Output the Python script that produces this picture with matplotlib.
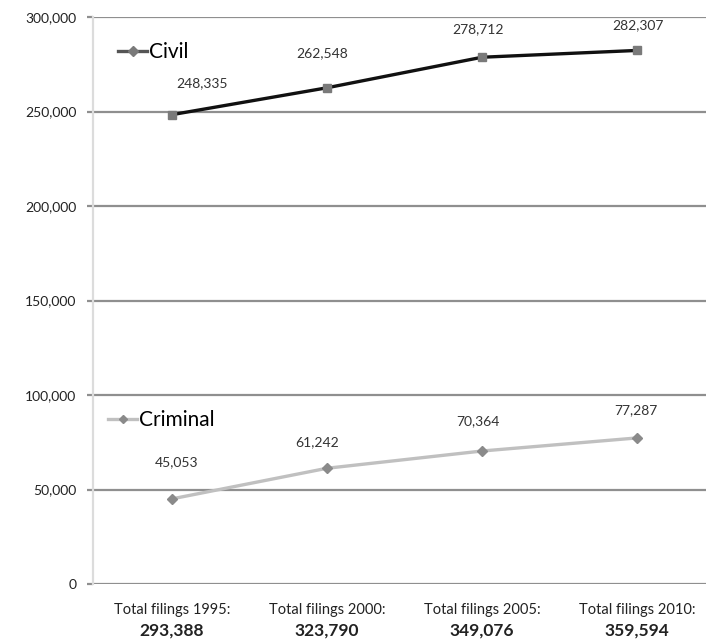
import matplotlib.pyplot as plt
from matplotlib.lines import Line2D

plt.rcParams['font.family'] = ['Lato', 'DejaVu Sans']

years = ['1995', '2000', '2005', '2010']
civil = [248335, 262548, 278712, 282307]
criminal = [45053, 61242, 70364, 77287]
totals = ['293,388', '323,790', '349,076', '359,594']
yticks = [0, 50000, 100000, 150000, 200000, 250000, 300000]

# label offsets in pixels (dx, dy) relative to each point
civil_off = [(30, 31), (-5, 35), (-4, 28), (1, 25)]
crim_off = [(5, 37), (-10, 26), (-4, 30), (-1, 28)]

fig = plt.figure(figsize=(7.06, 6.44), dpi=100)
ax = fig.add_axes([93 / 706, 60 / 644, 1 - 93 / 706, 567 / 644])

x = list(range(len(years)))
grid_c = '#8f8f8f'

ax.plot(x, civil, color='#111111', lw=2.4, marker='s', ms=6,
        mfc='#7a7a7a', mec='#7a7a7a', zorder=3)
ax.plot(x, criminal, color='#c0c0c0', lw=2.4, marker='D', ms=5,
        mfc='#8a8a8a', mec='#8a8a8a', zorder=3)

for i in x:
    ax.annotate(f'{civil[i]:,}', (i, civil[i]), xytext=civil_off[i],
                textcoords='offset pixels', ha='center', va='center',
                fontsize=10, color='#333333')
    ax.annotate(f'{criminal[i]:,}', (i, criminal[i]), xytext=crim_off[i],
                textcoords='offset pixels', ha='center', va='center',
                fontsize=10, color='#333333')

ax.set_xlim(-0.51, (706 - 172) / 155)
ax.set_ylim(0, 300000)
ax.set_yticks(yticks)
ax.set_yticklabels([f'{v:,}' for v in yticks], fontsize=10, color='#222222')
ax.yaxis.grid(True, color=grid_c, lw=1.6)
ax.set_axisbelow(True)
ax.tick_params(axis='y', length=4, width=1.6, color=grid_c, pad=8)

ax.set_xticks(x)
ax.set_xticklabels([f'Total filings {y}:' for y in years], fontsize=10.5,
                   color='#222222')
ax.tick_params(axis='x', length=0, pad=14)
for i in x:
    ax.annotate(totals[i], (i, 0), xytext=(0, -47), textcoords='offset pixels',
                ha='center', va='center', fontsize=12.5, fontweight='bold',
                color='#222222', annotation_clip=False)

for s in ['top', 'right']:
    ax.spines[s].set_visible(False)
ax.spines['bottom'].set_visible(False)
ax.spines['left'].set_color('#dcdcdc')
ax.spines['left'].set_linewidth(1.6)

h_civil = Line2D([], [], color='#555555', lw=2.4, marker='D', ms=5,
                 mfc='#7a7a7a', mec='#7a7a7a')
h_crim = Line2D([], [], color='#c0c0c0', lw=2.4, marker='D', ms=4,
                mfc='#8a8a8a', mec='#8a8a8a')
leg1 = ax.legend([h_civil], ['Civil'], loc='center left', frameon=False,
                 fontsize=15, handlelength=1.4, handletextpad=0.1,
                 borderpad=0, borderaxespad=0)
leg1.set_bbox_to_anchor((118 / 706, 1 - 52 / 644), transform=fig.transFigure)
ax.add_artist(leg1)
leg2 = ax.legend([h_crim], ['Criminal'], loc='center left', frameon=False,
                 fontsize=15, handlelength=1.4, handletextpad=0.1,
                 borderpad=0, borderaxespad=0)
leg2.set_bbox_to_anchor((108 / 706, 1 - 420 / 644), transform=fig.transFigure)

fig.savefig('out.png', dpi=100)
